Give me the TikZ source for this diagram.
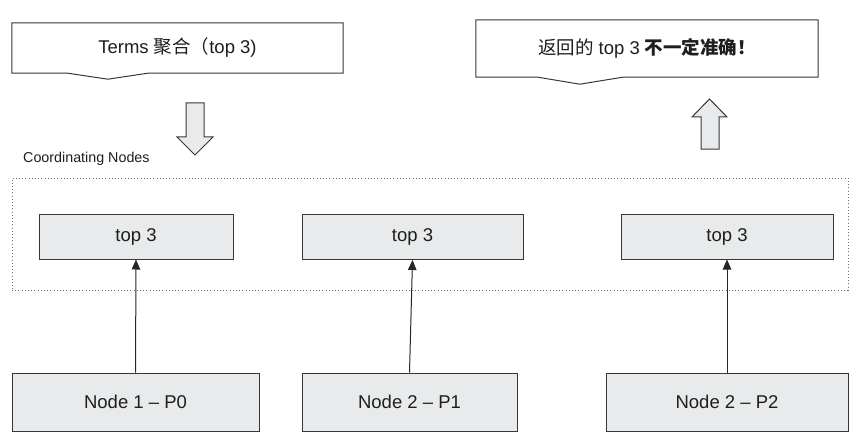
\documentclass[tikz,border=0pt]{standalone}
\usepackage{fontspec}
\setmainfont{Liberation Sans}
\newfontfamily\cjk{Noto Sans CJK SC}
\usetikzlibrary{calc,arrows.meta}
\definecolor{boxfill}{RGB}{232,234,235}
\definecolor{boxline}{RGB}{55,55,55}
\definecolor{txt}{RGB}{30,30,30}
\definecolor{dotline}{RGB}{110,110,110}
\begin{document}
\begin{tikzpicture}[x=1pt,y=-1pt,
  box/.style={draw=boxline, fill=boxfill, line width=1pt, inner sep=0pt,
    font=\fontsize{18.5}{22}\selectfont, text=txt},
  callout/.style={inner sep=0pt, font=\fontsize{18.5}{22}\selectfont, text=txt},
  calloutline/.style={draw=boxline, fill=white, line width=1pt, line join=miter},
  blockarrow/.style={draw=boxline, fill=boxfill, line width=1pt, line join=miter},
  link/.style={draw=black!85, line width=1pt, -{Triangle[length=10pt,width=8.5pt]}},
  group/.style={draw=dotline, line width=1pt, dash pattern=on 1pt off 2.2pt, inner sep=0pt},
  lbl/.style={font=\fontsize{14.3}{16}\selectfont, text=txt, inner sep=0pt}
]
\useasboundingbox (0,0) rectangle (859,441);

% coordinating nodes group
\node[group, minimum width=836pt, minimum height=112pt] (grp) at (430,234) {};
\node[lbl, anchor=west] (grplbl) at (23,159) {Coordinating Nodes};

% callout 1
\node[callout, minimum width=331pt, minimum height=50pt] (c1) at (177.5,48) {};
\path[calloutline] (c1.north west) -- (c1.north east) -- (c1.south east)
  -- ($(c1.south west)+(136,0)$) -- ($(c1.south west)+(96,6)$)
  -- ($(c1.south west)+(56,0)$) -- (c1.south west) -- cycle;
\node[callout] at (c1.center) {Terms {\cjk 聚合（}top 3)};

% callout 2
\node[callout, minimum width=342pt, minimum height=57pt] (c2) at (647,48.5) {};
\path[calloutline] (c2.north west) -- (c2.north east) -- (c2.south east)
  -- ($(c2.south west)+(147,0)$) -- ($(c2.south west)+(104,7)$)
  -- ($(c2.south west)+(62,0)$) -- (c2.south west) -- cycle;
\node[callout] at (c2.center) {{\cjk 返回的} top 3 {\cjk\bfseries 不一定准确！}};

% block arrows
\path[blockarrow] (186,103) -- (204,103) -- (204,137) -- (213,137) -- (195,155)
  -- (177,137) -- (186,137) -- cycle;
\path[blockarrow] (701,149) -- (719,149) -- (719,117) -- (727,117) -- (709.5,99)
  -- (692,117) -- (701,117) -- cycle;

% top boxes
\node[box, minimum width=194pt, minimum height=45pt] (t1) at (136,236.5) {top 3};
\node[box, minimum width=221pt, minimum height=45pt] (t2) at (412.5,237) {top 3};
\node[box, minimum width=212pt, minimum height=45pt] (t3) at (727,236.5) {top 3};

% bottom boxes
\node[box, minimum width=247pt, minimum height=58pt] (b1) at (135.5,402) {Node 1 – P0};
\node[box, minimum width=215pt, minimum height=58pt] (b2) at (409.5,402) {Node 2 – P1};
\node[box, minimum width=242pt, minimum height=58pt] (b3) at (727,402) {Node 2 – P2};

% links
\draw[link] (b1.north) -- (t1.south);
\draw[link] (b2.north) -- (t2.south);
\draw[link] (b3.north) -- (t3.south);
\end{tikzpicture}
\end{document}
